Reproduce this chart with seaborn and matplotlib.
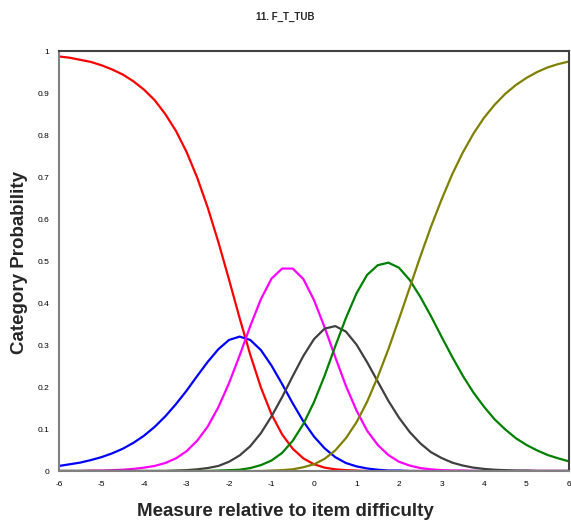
import numpy as np
import pandas as pd
import matplotlib
matplotlib.use("Agg")
import matplotlib.pyplot as plt
import seaborn as sns

# measures (logits relative to item difficulty), step 0.25
measure = np.arange(-6, 6.001, 0.25)

# category probabilities (x1000)
cat0 = [987, 984, 979, 974, 966, 956, 944, 928, 908, 883, 850, 810, 760, 699, 627, 545, 456, 364, 277, 199,
        135, 87, 53, 30, 16, 8, 4, 2, 1, 0, 0, 0, 0, 0, 0, 0, 0, 0, 0, 0, 0, 0, 0, 0, 0, 0, 0, 0, 0]
cat1 = [12, 16, 20, 26, 33, 42, 53, 67, 84, 105, 130, 159, 191, 226, 260, 290, 312, 320, 312, 288,
        251, 207, 161, 118, 82, 54, 33, 19, 11, 6, 3, 1, 1, 0, 0, 0, 0, 0, 0, 0, 0, 0, 0, 0, 0, 0, 0, 0, 0]
cat2 = [0, 0, 0, 1, 1, 2, 3, 5, 8, 12, 19, 30, 47, 72, 106, 152, 209, 275, 345, 409,
        458, 482, 482, 457, 407, 342, 271, 203, 144, 96, 62, 38, 22, 13, 7, 4, 2, 1, 1, 0, 0, 0, 0, 0, 0, 0, 0, 0, 0]
cat3 = [0, 0, 0, 0, 0, 0, 0, 0, 0, 0, 0, 1, 2, 4, 7, 12, 22, 37, 59, 90,
        130, 176, 226, 274, 314, 339, 345, 332, 301, 259, 213, 167, 127, 93, 66, 45, 31, 20, 13, 8, 5, 3, 2, 1, 1, 0, 0, 0, 0]
cat4 = [0, 0, 0, 0, 0, 0, 0, 0, 0, 0, 0, 0, 0, 0, 0, 1, 2, 3, 7, 14,
        25, 43, 72, 112, 164, 227, 297, 364, 423, 467, 490, 496, 484, 455, 415, 369, 320, 272, 227, 187, 153, 123, 99, 78, 62, 49, 38, 30, 23]
cat5 = [0, 0, 0, 0, 0, 0, 0, 0, 0, 0, 0, 0, 0, 0, 0, 0, 0, 0, 0, 0,
        1, 2, 4, 9, 16, 29, 49, 78, 116, 165, 224, 290, 362, 436, 510, 581, 646, 706, 758, 803, 841, 872, 898, 919, 936, 950, 961, 969, 975]

colors = ["#ff0000", "#0000ff", "#ff00ff", "#404040", "#008000", "#808000"]

xticks = list(range(-6, 7))
xtick_labels = ["-6", "-5", "-4", "-3", "-2", "-1", "0", "1", "2", "3", "4", "5", "6"]
yticks = [i / 10 for i in range(11)]
ytick_labels = ["0", "0.1", "0.2", "0.3", "0.4", "0.5", "0.6", "0.7", "0.8", "0.9", "1"]

df = pd.DataFrame({"measure": measure, "c0": cat0, "c1": cat1, "c2": cat2,
                   "c3": cat3, "c4": cat4, "c5": cat5})

sns.set_style("white")
plt.rcParams['font.family'] = ['Liberation Sans', 'DejaVu Sans']

fig = plt.figure(figsize=(5.71, 5.23), dpi=100)
ax = fig.add_axes([59/571, 1-471/523, 510/571, 420/523])

for i, c in enumerate(["c0", "c1", "c2", "c3", "c4", "c5"]):
    sns.lineplot(x=df["measure"], y=df[c] / 1000, color=colors[i], lw=1.6, ax=ax)

ax.set_xlim(-6, 6)
ax.set_ylim(0, 1)
ax.set_xticks(xticks)
ax.set_xticklabels(xtick_labels)
ax.set_yticks(yticks)
ax.set_yticklabels(ytick_labels)
ax.set_xlabel("")
ax.set_ylabel("")
ax.tick_params(direction="inout", length=6, width=1, colors="black", labelsize=6, pad=4)

for s in ["left", "bottom"]:
    ax.spines[s].set_color("#808080")
    ax.spines[s].set_linewidth(1.5)
for s in ["top", "right"]:
    ax.spines[s].set_color("#404040")
    ax.spines[s].set_linewidth(1.5)

fig.text(0.5, 1 - 17/523, "11. F_T_TUB", ha="center", va="center", fontsize=7, fontweight="bold")
fig.text(0.5, 1 - 511/523, "Measure relative to item difficulty", ha="center", va="center",
         fontsize=13.5, fontweight="bold")
fig.text(20/571, 1 - 262/523, "Category Probability", ha="center", va="center", rotation=90,
         fontsize=13.5, fontweight="bold")

fig.savefig("out.png")
